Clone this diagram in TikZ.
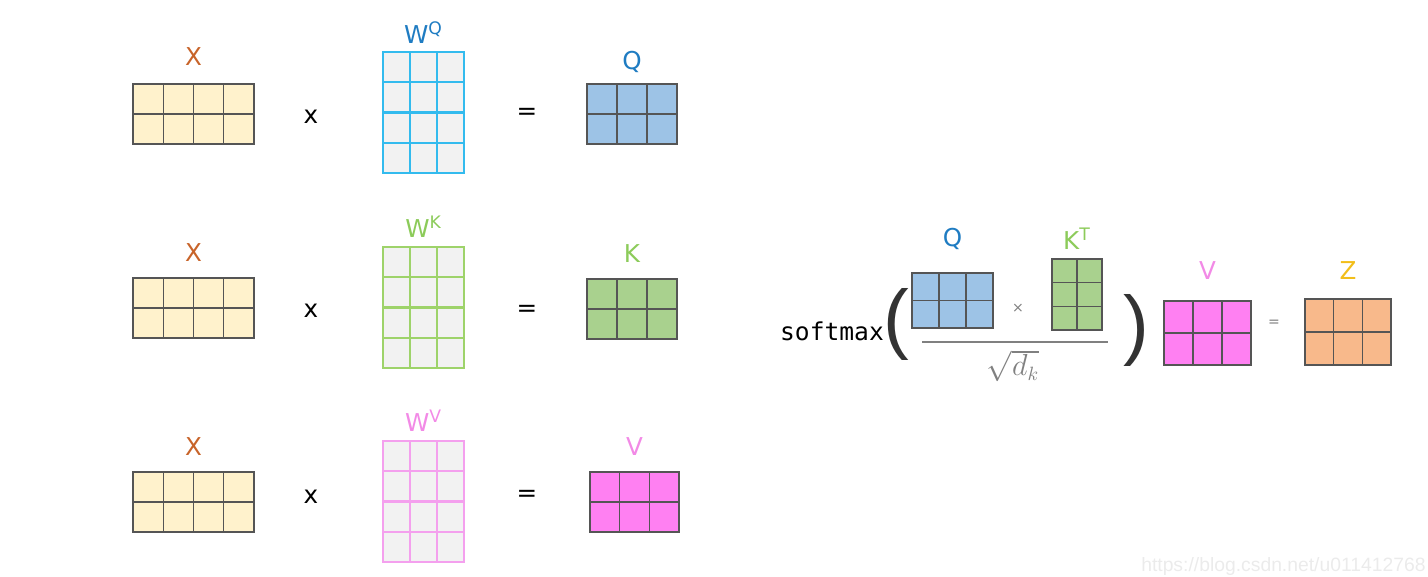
\documentclass[tikz,border=0pt]{standalone}
\usepackage{fontspec}
\setmainfont{DejaVu Sans}
\setmonofont{DejaVu Sans Mono}
\newfontfamily\markfont{Liberation Sans}
\usetikzlibrary{positioning,calc}

\definecolor{xfill}{HTML}{FFF2CC}
\definecolor{xlab}{HTML}{C8642A}
\definecolor{wfill}{HTML}{F2F2F2}
\definecolor{gline}{HTML}{555555}
\definecolor{wq}{HTML}{33BBEE}
\definecolor{qlab}{HTML}{1F7CC2}
\definecolor{qfill}{HTML}{9DC3E6}
\definecolor{wk}{HTML}{9ED36A}
\definecolor{klab}{HTML}{8CCB5A}
\definecolor{kfill}{HTML}{A9D18E}
\definecolor{wv}{HTML}{F4A0EE}
\definecolor{vlab}{HTML}{F28AE6}
\definecolor{vfill}{HTML}{FF80F2}
\definecolor{zfill}{HTML}{F8B98B}
\definecolor{zlab}{HTML}{F2BE1A}

\begin{document}
\begin{tikzpicture}[x=0.02cm, y=-0.02cm,
    mat/.style={inner sep=0pt, outer sep=0pt},
    cells/.style n args={4}{path picture={
        \foreach \i in {1,...,#1}
          \draw[#3, line width=#4] ($(path picture bounding box.north west)!\i/#1!(path picture bounding box.north east)$) -- ($(path picture bounding box.south west)!\i/#1!(path picture bounding box.south east)$);
        \foreach \j in {1,...,#2}
          \draw[#3, line width=#4] ($(path picture bounding box.north west)!\j/#2!(path picture bounding box.south west)$) -- ($(path picture bounding box.north east)!\j/#2!(path picture bounding box.south east)$);
      }},
    xmat/.style={mat, draw=gline, line width=0.6pt, fill=xfill, minimum width=2.42cm, minimum height=1.2cm, cells={4}{2}{gline}{0.6pt}},
    wmat/.style={mat, draw=#1, line width=1.2pt, fill=wfill, minimum width=1.62cm, minimum height=2.42cm, cells={3}{4}{#1}{1.2pt}},
    omat/.style={mat, draw=gline, line width=0.6pt, fill=#1, cells={3}{2}{gline}{0.6pt}},
    lbl/.style={inner sep=0pt, font=\fontsize{14}{16}\selectfont},
    op/.style={inner sep=0pt, font=\fontsize{14}{16}\selectfont},
    sop/.style={inner sep=0pt, text=gray, font=\fontsize{8}{9}\selectfont},
    paren/.style={inner sep=0pt, text=black!80, font=\markfont\fontsize{44}{44}\selectfont}
  ]
  \useasboundingbox (0,0) rectangle (1428,576);

  % Q row
  \node[xmat] (x1) at (193.5,114) {};
  \node[wmat=wq] (wq) at (423.5,112.5) {};
  \node[omat=qfill, minimum width=1.8cm, minimum height=1.2cm] (q) at (632,114) {};
  \node[lbl, text=xlab, above=0.36cm of x1] (x1l) {X};
  \node[lbl, text=qlab, above=0.16cm of wq] (wql) {W\textsuperscript{Q}};
  \node[lbl, text=qlab, above=0.22cm of q] (ql) {Q};
  \node[op] (mul1) at (311,117) {x};
  \node[op] (eq1) at (527,114) {=};

  % K row
  \node[xmat] (x2) at (193.5,308) {};
  \node[wmat=wk] (wk) at (423.5,307.5) {};
  \node[omat=kfill, minimum width=1.8cm, minimum height=1.2cm] (k) at (632,309) {};
  \node[lbl, text=xlab, above=0.32cm of x2] (x2l) {X};
  \node[lbl, text=klab, above=0.18cm of wk] (wkl) {W\textsuperscript{K}};
  \node[lbl, text=klab, above=0.32cm of k] (kl) {K};
  \node[op] (mul2) at (311,311) {x};
  \node[op] (eq2) at (527,311) {=};

  % V row
  \node[xmat] (x3) at (193.5,502) {};
  \node[wmat=wv] (wv) at (423.5,501.5) {};
  \node[omat=vfill, minimum width=1.78cm, minimum height=1.2cm] (v) at (634.5,502) {};
  \node[lbl, text=xlab, above=0.32cm of x3] (x3l) {X};
  \node[lbl, text=vlab, above=0.18cm of wv] (wvl) {W\textsuperscript{V}};
  \node[lbl, text=vlab, above=0.32cm of v] (vl) {V};
  \node[op] (mul3) at (311,497) {x};
  \node[op] (eq3) at (527,496) {=};

  % attention
  \node[font=\ttfamily\fontsize{14}{16}\selectfont, inner sep=0pt] (sm) at (832,331) {softmax};
  \node[paren] (lp) at (896,324) {(};
  \node[omat=qfill, minimum width=1.62cm, minimum height=1.1cm] (q2) at (952.5,300.5) {};
  \node[mat, draw=gline, line width=0.6pt, fill=kfill, minimum width=1cm, minimum height=1.42cm, cells={2}{3}{gline}{0.6pt}] (kt) at (1077,294.5) {};
  \node[lbl, text=qlab, above=0.46cm of q2] (q2l) {Q};
  \node[lbl, text=klab, above=0.18cm of kt] (ktl) {K\textsuperscript{T}};
  \node[sop] (mul4) at (1018,308) {×};
  \draw[gray, line width=1pt] (922,342) -- (1108,342);
  \node[inner sep=0pt, text=gray, font=\fontsize{16}{18}\selectfont] (dk) at (1013,366) {$\sqrt{d_k}$};
  \node[paren] (rp) at (1136,330) {)};
  \node[omat=vfill, minimum width=1.74cm, minimum height=1.28cm] (v2) at (1207.5,333) {};
  \node[lbl, text=vlab, above=0.42cm of v2] (v2l) {V};
  \node[sop] (eq4) at (1274,323) {=};
  \node[omat=zfill, minimum width=1.72cm, minimum height=1.32cm] (z) at (1348,332) {};
  \node[lbl, text=zlab, above=0.38cm of z] (zl) {Z};

  \node[anchor=south east, inner sep=0pt, text=black!8, font=\markfont\fontsize{11}{12}\selectfont] (mark) at (1426,576) {https://blog.csdn.net/u011412768};
\end{tikzpicture}
\end{document}
